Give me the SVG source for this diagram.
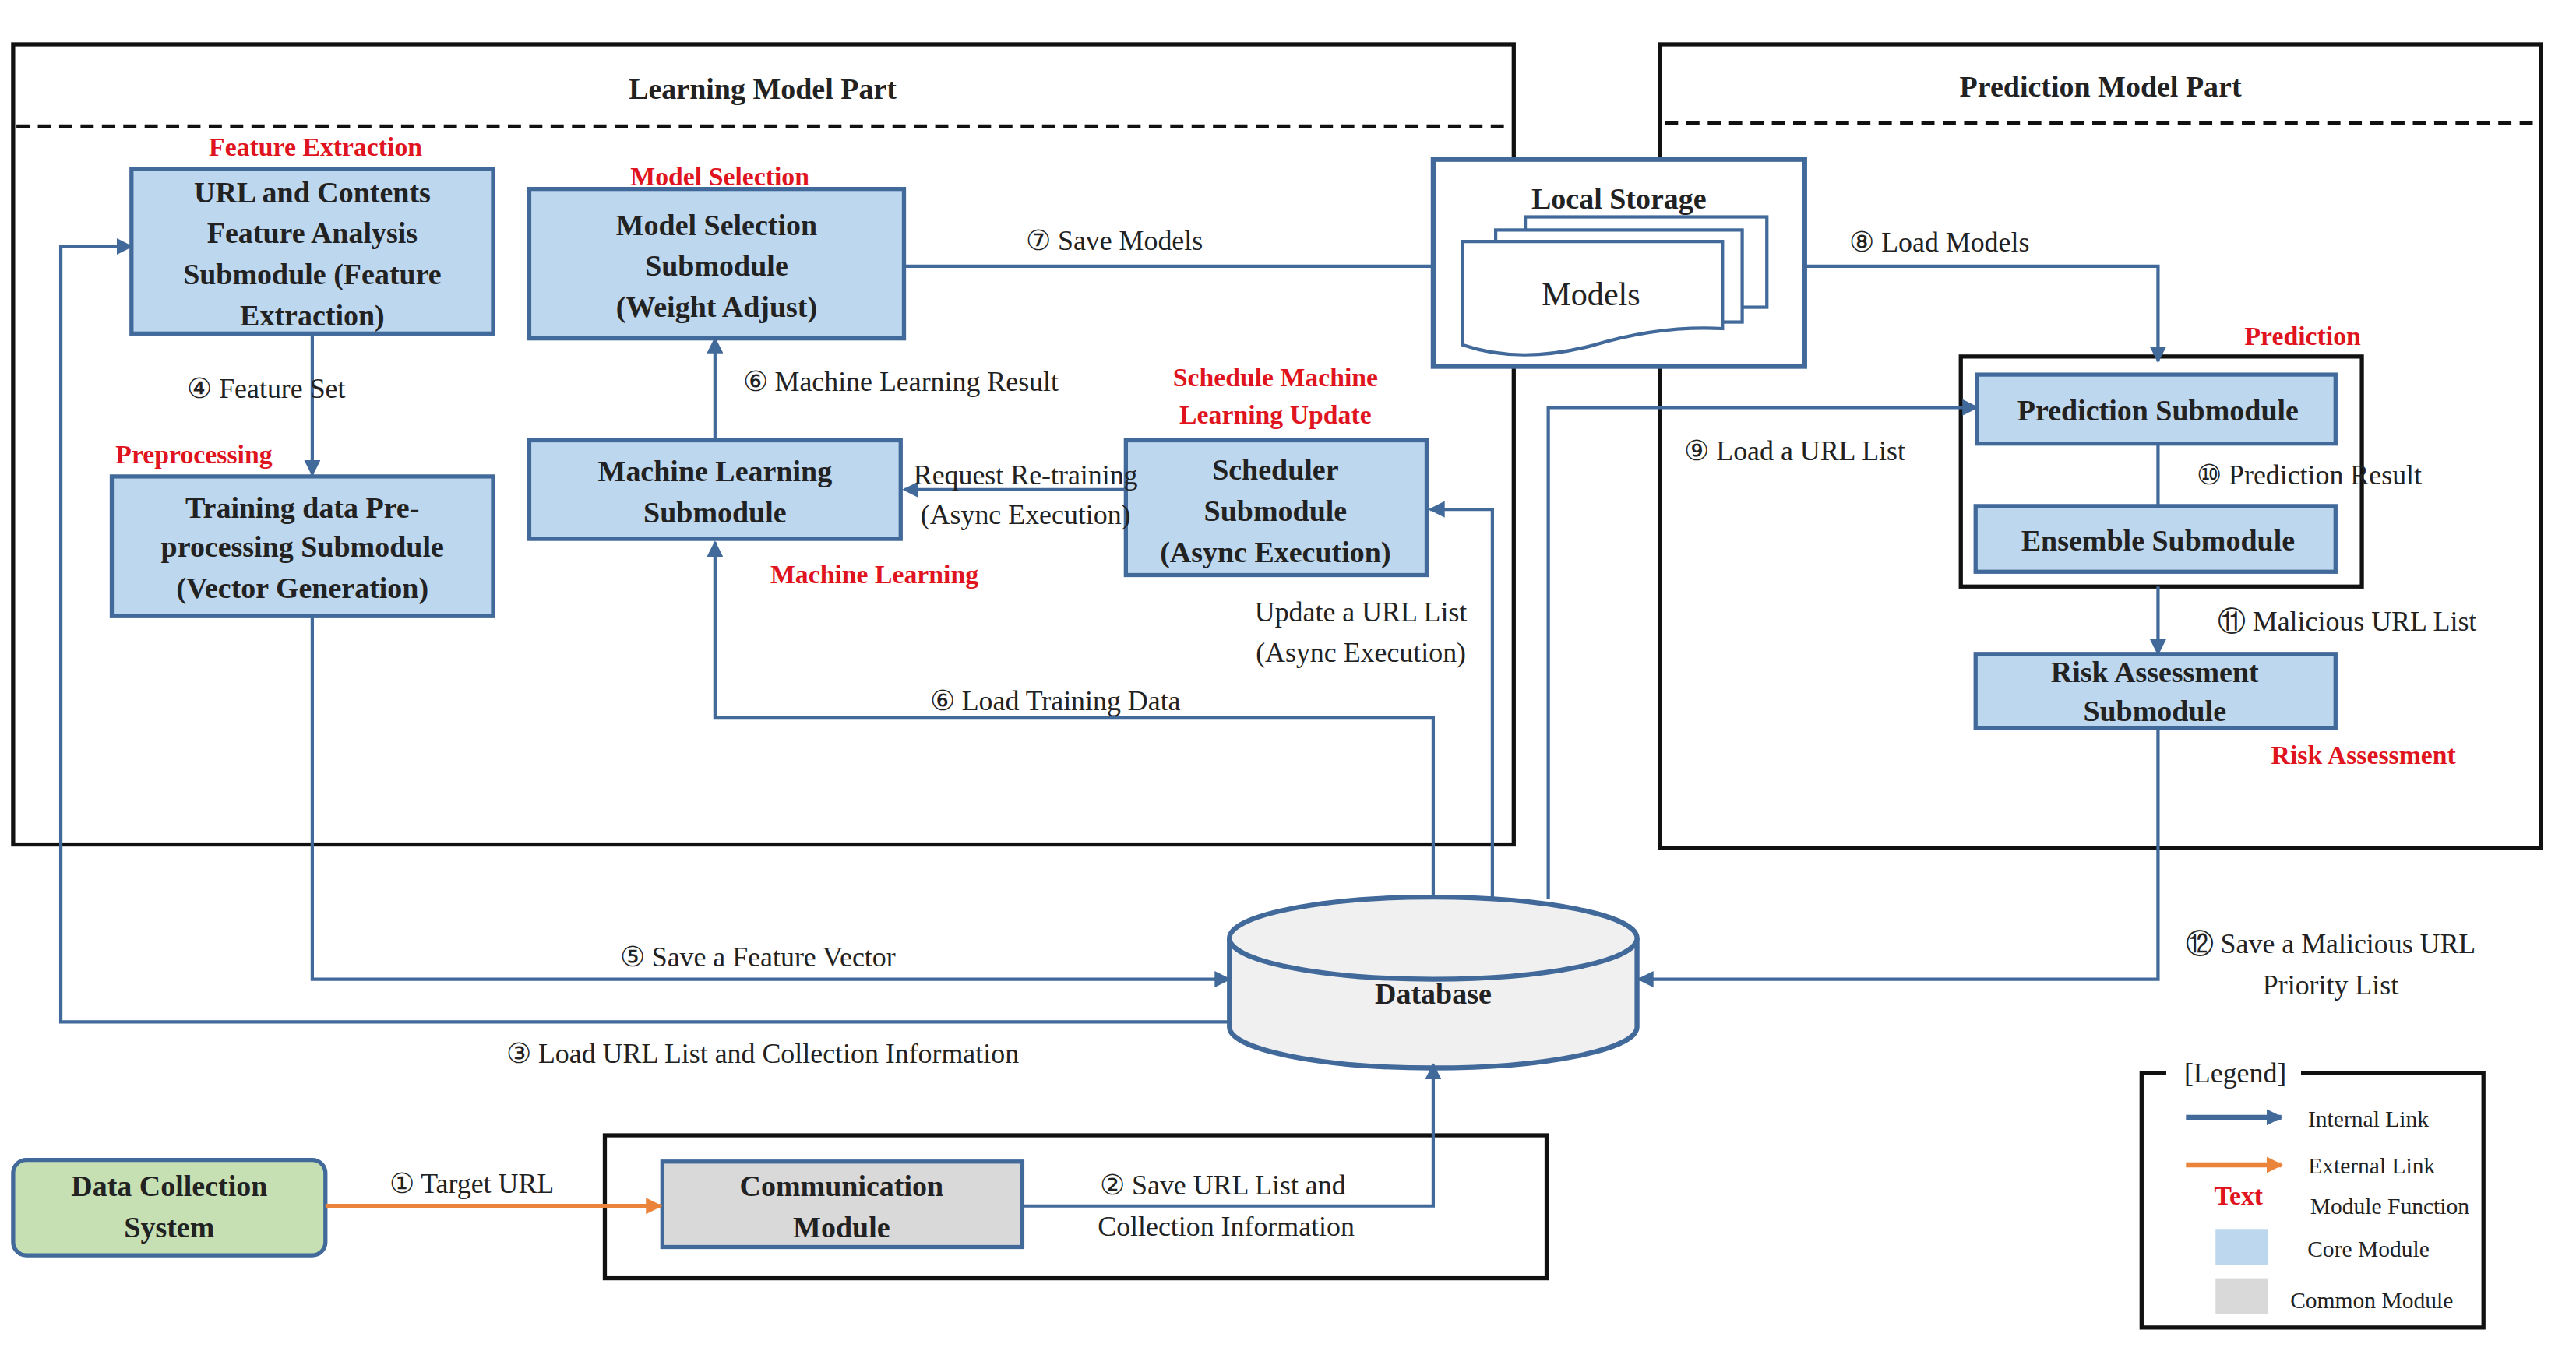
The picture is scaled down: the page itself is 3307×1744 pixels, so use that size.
<svg xmlns="http://www.w3.org/2000/svg" width="3307" height="1744" viewBox="0 0 3307 1744">
<defs>
<marker id="ab" markerWidth="10" markerHeight="10" refX="9" refY="5" orient="auto" markerUnits="userSpaceOnUse"><path d="M0,0 L10,5 L0,10 Z" fill="#41699a"/></marker>
<marker id="ao" markerWidth="10" markerHeight="10" refX="9" refY="5" orient="auto" markerUnits="userSpaceOnUse"><path d="M0,0 L10,5 L0,10 Z" fill="#e9843a"/></marker>
<style>
.t{font-family:"Liberation Serif",serif;font-size:17px;fill:#222;text-anchor:middle}
.b{font-weight:bold;font-size:18px}
.r{font-family:"Liberation Serif",serif;font-weight:bold;font-size:16px;fill:#e0141e;text-anchor:middle}
.core{fill:#bdd7ee;stroke:#41699a;stroke-width:2.5}
.frame{fill:none;stroke:#111;stroke-width:2.5}
.ln{fill:none;stroke:#41699a;stroke-width:2}
.dash{stroke:#111;stroke-width:2.5;stroke-dasharray:8,5}
</style>
</defs>
<rect width="3307" height="1744" fill="#fff"/>
<g transform="scale(2.11)">
<g id="learning-part">
<rect class="frame" x="8" y="27" width="913" height="487"/>
<line class="dash" x1="10" y1="77" x2="916" y2="77"/>
<text class="t b" x="464" y="60">Learning Model Part</text>
</g>
<g id="prediction-part">
<rect class="frame" x="1010" y="27" width="536" height="489"/>
<line class="dash" x1="1013" y1="75" x2="1544" y2="75"/>
<text class="t b" x="1278" y="59">Prediction Model Part</text>
</g>
<g id="url-feature">
<text class="r" x="192" y="95">Feature Extraction</text>
<rect class="core" x="80" y="103" width="220" height="100"/>
<text class="t b" x="190" y="123">URL and Contents</text>
<text class="t b" x="190" y="148">Feature Analysis</text>
<text class="t b" x="190" y="173">Submodule (Feature</text>
<text class="t b" x="190" y="198">Extraction)</text>
</g>
<g id="model-selection">
<text class="r" x="438" y="113">Model Selection</text>
<rect class="core" x="322" y="115" width="228" height="91"/>
<text class="t b" x="436" y="143">Model Selection</text>
<text class="t b" x="436" y="168">Submodule</text>
<text class="t b" x="436" y="193">(Weight Adjust)</text>
</g>
<g id="local-storage">
<rect x="872" y="97" width="226" height="126" fill="#fff" stroke="#41699a" stroke-width="3"/>
<text class="t b" x="985" y="127">Local Storage</text>
<rect x="928" y="132" width="147" height="55" fill="#fff" stroke="#41699a" stroke-width="2"/>
<rect x="910" y="140" width="150" height="56" fill="#fff" stroke="#41699a" stroke-width="2"/>
<path d="M890,147 H1048 V200 Q1010,198 970,210 Q925,222 890,210 Z" fill="#fff" stroke="#41699a" stroke-width="2"/>
<text class="t" x="968" y="186" style="font-size:20px">Models</text>
</g>
<g id="prediction">
<text class="r" x="1401" y="210">Prediction</text>
<rect class="frame" x="1193" y="217" width="244" height="140"/>
<rect class="core" x="1203" y="228" width="218" height="42"/>
<text class="t b" x="1313" y="256">Prediction Submodule</text>
</g>
<g id="ensemble">
<rect class="core" x="1202" y="308" width="219" height="40"/>
<text class="t b" x="1313" y="335">Ensemble Submodule</text>
</g>
<g id="risk">
<rect class="core" x="1202" y="398" width="219" height="45"/>
<text class="t b" x="1311" y="415">Risk Assessment</text>
<text class="t b" x="1311" y="439">Submodule</text>
<text class="r" x="1438" y="465">Risk Assessment</text>
</g>
<g id="preprocessing">
<text class="r" x="118" y="282">Preprocessing</text>
<rect class="core" x="68" y="290" width="232" height="85"/>
<text class="t b" x="184" y="315">Training data Pre-</text>
<text class="t b" x="184" y="339">processing Submodule</text>
<text class="t b" x="184" y="364">(Vector Generation)</text>
</g>
<g id="machine-learning">
<rect class="core" x="322" y="268" width="226" height="60"/>
<text class="t b" x="435" y="293">Machine Learning</text>
<text class="t b" x="435" y="318">Submodule</text>
<text class="r" x="532" y="355">Machine Learning</text>
</g>
<g id="scheduler">
<text class="r" x="776" y="235">Schedule Machine</text>
<text class="r" x="776" y="258">Learning Update</text>
<rect class="core" x="685" y="268" width="183" height="82"/>
<text class="t b" x="776" y="292">Scheduler</text>
<text class="t b" x="776" y="317">Submodule</text>
<text class="t b" x="776" y="342">(Async Execution)</text>
</g>
<g id="database">
<path d="M748,571 V625 A124,25 0 0 0 996,625 V571" fill="#f0f0f0" stroke="#41699a" stroke-width="3"/>
<ellipse cx="872" cy="571" rx="124" ry="25" fill="#f0f0f0" stroke="#41699a" stroke-width="3"/>
<text class="t b" x="872" y="611">Database</text>
</g>
<g id="data-collection">
<rect x="8" y="706" width="190" height="58" rx="8" fill="#c6e0b4" stroke="#41699a" stroke-width="2.5"/>
<text class="t b" x="103" y="728">Data Collection</text>
<text class="t b" x="103" y="753">System</text>
</g>
<g id="communication">
<rect class="frame" x="368" y="691" width="573" height="87"/>
<rect x="403" y="707" width="219" height="52" fill="#d9d9d9" stroke="#41699a" stroke-width="2.5"/>
<text class="t b" x="512" y="728">Communication</text>
<text class="t b" x="512" y="753">Module</text>
</g>
<g id="connectors">
<path class="ln" d="M550,162 H872"/>
<text class="t" x="678" y="152">⑦ Save Models</text>
<path class="ln" d="M1098,162 H1313 V220" marker-end="url(#ab)"/>
<text class="t" x="1180" y="153">⑧ Load Models</text>
<path class="ln" d="M1313,270 V308"/>
<text class="t" x="1405" y="295">⑩ Prediction Result</text>
<path class="ln" d="M1313,357 V398" marker-end="url(#ab)"/>
<text class="t" x="1428" y="384">⑪ Malicious URL List</text>
<path class="ln" d="M1313,443 V596 H997" marker-end="url(#ab)"/>
<text class="t" x="1418" y="580">⑫ Save a Malicious URL</text>
<text class="t" x="1418" y="605">Priority List</text>
<path class="ln" d="M190,203 V289" marker-end="url(#ab)"/>
<text class="t" x="162" y="242">④ Feature Set</text>
<path class="ln" d="M190,375 V596 H748" marker-end="url(#ab)"/>
<text class="t" x="461" y="588">⑤ Save a Feature Vector</text>
<path class="ln" d="M748,622 H37 V150 H80" marker-end="url(#ab)"/>
<text class="t" x="464" y="647">③ Load URL List and Collection Information</text>
<path class="ln" d="M435,268 V206" marker-end="url(#ab)"/>
<text class="t" x="548" y="238">⑥ Machine Learning Result</text>
<path class="ln" d="M872,547 V437 H435 V330" marker-end="url(#ab)"/>
<text class="t" x="642" y="432">⑥ Load Training Data</text>
<path class="ln" d="M685,298 H550" marker-end="url(#ab)"/>
<text class="t" x="624" y="295">Request Re-training</text>
<text class="t" x="624" y="319">(Async Execution)</text>
<path class="ln" d="M908,547 V310 H870" marker-end="url(#ab)"/>
<text class="t" x="828" y="378">Update a URL List</text>
<text class="t" x="828" y="403">(Async Execution)</text>
<path class="ln" d="M942,547 V248 H1203" marker-end="url(#ab)"/>
<text class="t" x="1092" y="280">⑨ Load a URL List</text>
<path d="M198,734 H402" fill="none" stroke="#e9843a" stroke-width="2.5" marker-end="url(#ao)"/>
<text class="t" x="287" y="726">① Target URL</text>
<path class="ln" d="M622,734 H872 V648" marker-end="url(#ab)"/>
<text class="t" x="744" y="727">② Save URL List and</text>
<text class="t" x="746" y="752">Collection Information</text>
</g>
<g id="legend">
<path d="M1318,653 H1303 V808 H1511 V653 H1400" fill="none" stroke="#111" stroke-width="2.5"/>
<text class="t" x="1360" y="659">[Legend]</text>
<path d="M1330,680 H1388" stroke="#41699a" stroke-width="3" marker-end="url(#ab)"/>
<text class="t" x="1441" y="686" style="font-size:14px">Internal Link</text>
<path d="M1330,709 H1388" stroke="#e9843a" stroke-width="3" marker-end="url(#ao)"/>
<text class="t" x="1443" y="714" style="font-size:14px">External Link</text>
<text class="r" x="1362" y="733">Text</text>
<text class="t" x="1454" y="739" style="font-size:14px">Module Function</text>
<rect x="1348" y="748" width="32" height="22" fill="#bdd7ee"/>
<text class="t" x="1441" y="765" style="font-size:14px">Core Module</text>
<rect x="1348" y="778" width="32" height="22" fill="#d9d9d9"/>
<text class="t" x="1443" y="796" style="font-size:14px">Common Module</text>
</g>
</g>
</svg>
